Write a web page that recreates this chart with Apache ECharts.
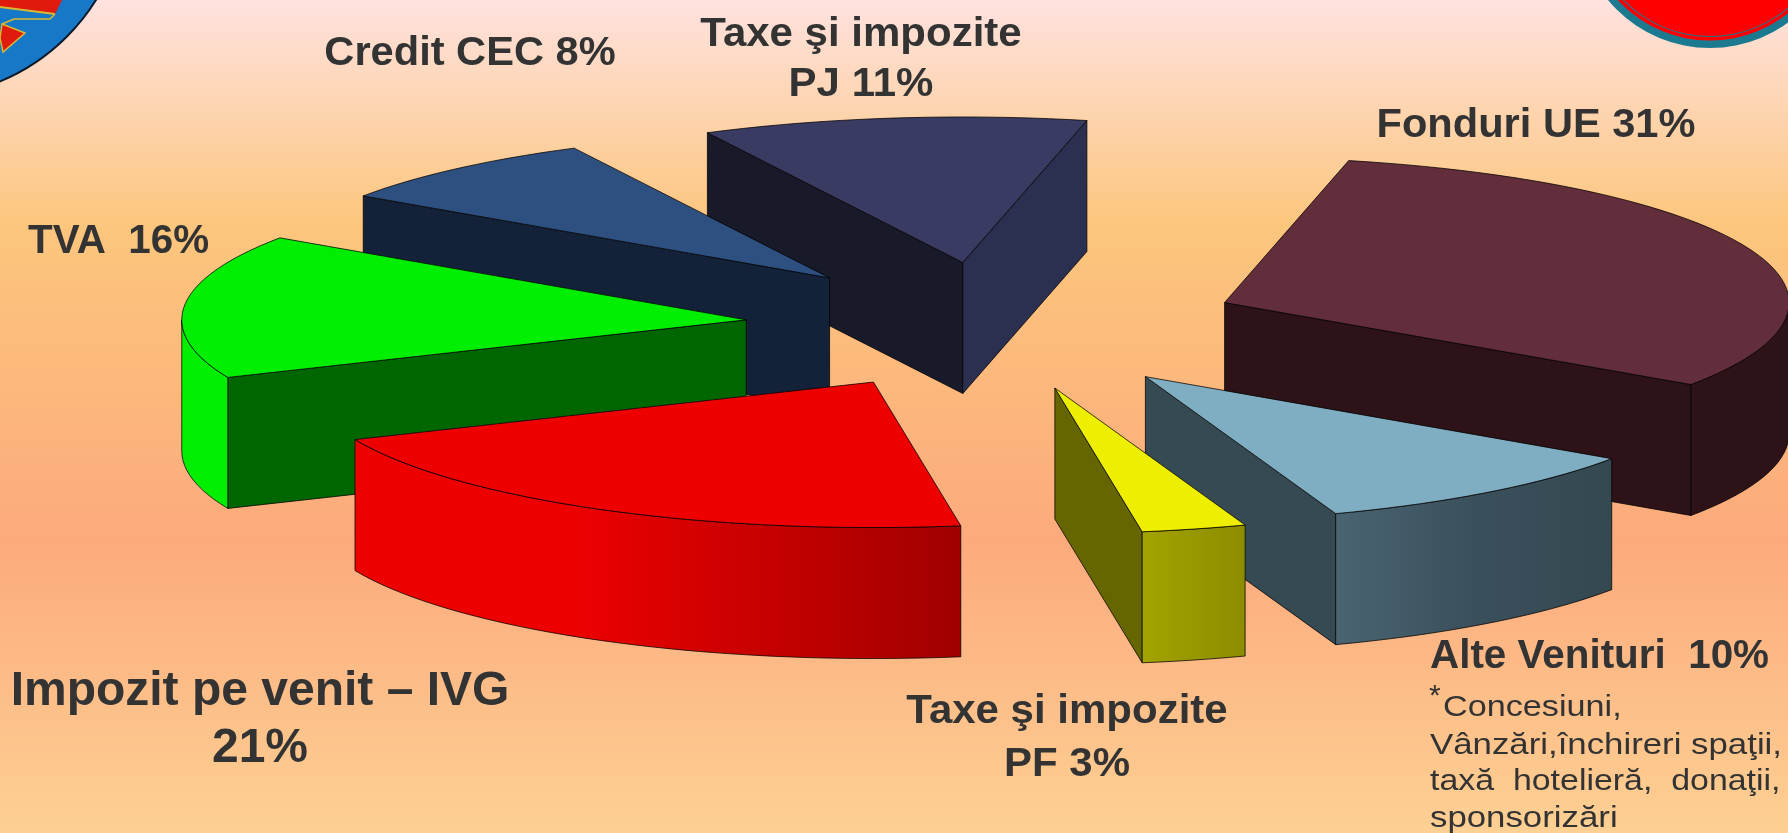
<!DOCTYPE html>
<html>
<head>
<meta charset="utf-8">
<title>Venituri</title>
<style>
html, body { margin: 0; padding: 0; }
#chart { width: 1788px; height: 833px; }
</style>
<script src="https://cdn.jsdelivr.net/npm/echarts@6/dist/echarts.min.js"></script>
</head>
<body>
<div id="chart"></div>
<script>
// data, clockwise from the back of the pie
var categories = ['Fonduri UE', 'Alte Venituri', 'Taxe şi impozite PF', 'Impozit pe venit – IVG', 'TVA', 'Credit CEC', 'Taxe şi impozite PJ'];
var values = [31, 10, 3, 21, 16, 8, 11];

var topColors = ['#632e3b', '#7fadc1', '#eeee00', '#ee0000', '#00ee00', '#2e5080', '#3a3b63'];
var startWallColors = ['#2d1218', '#364a54', '#666600', '#a00000', '#006600', '#132238', '#181a2a'];
var endWallColors = ['#2d1218', '#364a54', '#666600', '#a00000', '#006600', '#132238', '#2b2f50'];
var outerWallStops = [
    [[0, '#2d1218'], [1, '#2d1218']],
    [[0, '#4a6472'], [0.5, '#3a505b'], [1, '#344851']],
    [[0, '#a3a300'], [1, '#8c8c00']],
    [[0, '#ee0000'], [0.35, '#ee0000'], [1, '#a00000']],
    [[0, '#00ee00'], [1, '#00ee00']],
    [[0, '#132238'], [1, '#132238']],
    [[0, '#2b2f50'], [1, '#2b2f50']]
];

// pie geometry on the page
var centerX = 993.5, centerY = 326;
var radiusX = 564.5, radiusY = 145.5;
var depth = 131;
var explode = 0.44;
var firstAngle = 12.7;

var total = values.reduce(function (a, b) { return a + b; }, 0);
var startAngles = [];
values.reduce(function (acc, v, i) {
    startAngles[i] = acc;
    return acc + v / total * 360;
}, firstAngle);

function rimPoint(cx, cy, deg, dy) {
    var r = deg * Math.PI / 180;
    return [cx + radiusX * Math.sin(r), cy - radiusY * Math.cos(r) + (dy || 0)];
}

function arcPoints(cx, cy, from, to, dy) {
    var pts = [];
    var steps = Math.max(2, Math.ceil(Math.abs(to - from) / 2));
    for (var k = 0; k <= steps; k++) {
        pts.push(rimPoint(cx, cy, from + (to - from) * k / steps, dy));
    }
    return pts;
}

function face(points, fill, z2) {
    return {
        type: 'polygon',
        z2: z2,
        shape: { points: points },
        style: { fill: fill, stroke: 'rgba(0,0,0,0.75)', lineWidth: 1, lineJoin: 'round' }
    };
}

function wallGradient(stops) {
    return {
        type: 'linear', x: 0, y: 0, x2: 1, y2: 0,
        colorStops: stops.map(function (s) { return { offset: s[0], color: s[1] }; })
    };
}

function renderSlice(params, api) {
    var i = api.value(0);
    var from = startAngles[i];
    var to = from + api.value(1) / total * 360;
    var mid = (from + to) / 2 * Math.PI / 180;
    var cx = centerX + explode * radiusX * Math.sin(mid);
    var cy = centerY - explode * radiusY * Math.cos(mid);
    var order = Math.round(cy) * 10;
    var children = [];

    var p0 = rimPoint(cx, cy, from);
    var p1 = rimPoint(cx, cy, to);

    // radial walls, only the ones that face the viewer
    if (p0[0] < cx) {
        children.push(face([[cx, cy], p0, [p0[0], p0[1] + depth], [cx, cy + depth]], startWallColors[i], order));
    }
    if (p1[0] > cx) {
        children.push(face([[cx, cy], p1, [p1[0], p1[1] + depth], [cx, cy + depth]], endWallColors[i], order + 1));
    }

    // outer wall, the front half of the rim
    var a = Math.max(from, 90), b = Math.min(to, 270);
    if (b > a) {
        var wall = arcPoints(cx, cy, a, b, 0).concat(arcPoints(cx, cy, b, a, depth));
        children.push(face(wall, wallGradient(outerWallStops[i]), order + 2));
    }

    // top face
    children.push(face([[cx, cy]].concat(arcPoints(cx, cy, from, to, 0)), topColors[i], order + 3));

    return { type: 'group', children: children };
}

// labels
var labelColor = '#333333';
var labelFamily = '"Liberation Sans", Arial, sans-serif';

function label(text, x, y, size, align, bold, scaleX) {
    return {
        type: 'text',
        x: x,
        y: y,
        scaleX: scaleX || 1,
        z: 20,
        style: {
            text: text,
            fontFamily: labelFamily,
            fontSize: size,
            fontWeight: bold ? 'bold' : 'normal',
            fill: labelColor,
            align: align,
            verticalAlign: 'middle'
        }
    };
}

var chart = echarts.init(document.getElementById('chart'));

chart.setOption({
    animation: false,
    backgroundColor: {
        type: 'linear', x: 0, y: 0, x2: 0, y2: 1,
        colorStops: [
            { offset: 0, color: '#ffe2df' },
            { offset: 0.27, color: '#fcc67d' },
            { offset: 0.65, color: '#fcaa7c' },
            { offset: 1, color: '#fdd093' }
        ]
    },
    series: [{
        type: 'custom',
        coordinateSystem: 'none',
        silent: true,
        renderItem: renderSlice,
        data: values.map(function (v, i) { return [i, v, categories[i]]; })
    }],
    graphic: [
        // left crest, cut by the page corner
        { type: 'circle', z: 10, shape: { cx: -80, cy: -110, r: 207.5 }, style: { fill: '#1878c8', stroke: '#0a1a2a', lineWidth: 2 } },
        { type: 'polygon', z: 11, shape: { points: [[0, 0], [62, 0], [55, 14], [30, 10], [0, 7]] }, style: { fill: '#e01a0c' } },
        { type: 'polygon', z: 11, shape: { points: [[2, 24], [25, 33], [3, 52], [0, 38]] }, style: { fill: '#e01a0c', stroke: '#d8b830', lineWidth: 1.5 } },
        { type: 'polyline', z: 12, shape: { points: [[0, 7], [55, 14]] }, style: { stroke: '#d8b830', lineWidth: 2, fill: 'none' } },
        { type: 'polyline', z: 12, shape: { points: [[55, 14], [50, 19], [14, 19], [2, 24]] }, style: { stroke: '#d8b830', lineWidth: 1.5, fill: 'none' } },

        // right crest, cut by the page top
        { type: 'circle', z: 10, shape: { cx: 1710, cy: -84.4, r: 132.4 }, style: { fill: '#1c7a90' } },
        { type: 'circle', z: 11, shape: { cx: 1710, cy: -84.4, r: 125 }, style: { fill: '#ff0000' } },
        { type: 'circle', z: 12, shape: { cx: 1710, cy: -84.4, r: 121.5 }, style: { fill: '#1c7a90' } },
        { type: 'circle', z: 13, shape: { cx: 1710, cy: -84.4, r: 120.5 }, style: { fill: '#ff0000' } },

        label('Credit CEC 8%', 470, 54, 40, 'center', true, 1.04),
        label('Taxe şi impozite', 861, 35, 40, 'center', true, 1.05),
        label('PJ 11%', 861, 85, 40, 'center', true, 1.05),
        label('Fonduri UE 31%', 1536, 126, 40, 'center', true, 1.04),
        label('TVA  16%', 28, 242, 40, 'left', true, 1.01),
        label('Impozit pe venit – IVG', 260, 692, 48, 'center', true),
        label('21%', 260, 749, 48, 'center', true),
        label('Taxe şi impozite', 1067, 712, 40, 'center', true, 1.05),
        label('PF 3%', 1067, 765, 40, 'center', true, 1.05),
        label('Alte Venituri  10%', 1430, 657, 40, 'left', true, 1.01),
        label('*', 1429, 697, 30, 'left', false),
        label('Concesiuni,', 1443, 708, 30, 'left', false, 1.14),
        label('Vânzări,închireri spaţii,', 1430, 746, 30, 'left', false, 1.16),
        label('taxă  hotelieră,  donaţii,', 1430, 782, 30, 'left', false, 1.13),
        label('sponsorizări', 1430, 819, 30, 'left', false, 1.16)
    ]
});
</script>
</body>
</html>
